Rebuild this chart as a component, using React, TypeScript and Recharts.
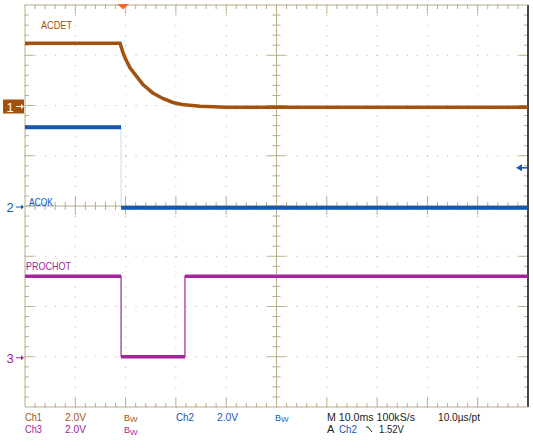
import React from 'react';
import { LineChart, Line, XAxis, YAxis, CartesianGrid, ReferenceLine } from 'recharts';

// scope settings
const VOLTS_PER_DIV = 2;
const CH_OFFSET = { ch1: 6, ch2: 4, ch3: 1 }; // ground marker, in divisions from bottom
const TRIGGER_TIME = 19.5; // ms
const TRIGGER_LEVEL = 1.52; // V on Ch2

// ACDET (Ch1), time in ms, volts
const acdetTime = [0, 18.9, 19.4, 19.9, 20.9, 22.3, 23.5, 25.4, 27.4, 29.4, 31.2, 34.8, 40, 100];
const acdetVolts = [2.48, 2.48, 2.15, 1.89, 1.49, 1.13, 0.82, 0.5, 0.28, 0.12, 0.04, -0.03, -0.07, -0.07];

// ACOK (Ch2)
const acokTime = [0, 19.1, 19.1, 100];
const acokVolts = [3.13, 3.13, -0.07, -0.07];

// PROCHOT (Ch3)
const prochotTime = [0, 19.1, 19.1, 31.8, 31.8, 100];
const prochotVolts = [3.2, 3.2, 0, 0, 3.2, 3.2];

// graticule: 10 x 8 divisions
const majorX = [0, 10, 20, 30, 40, 50, 60, 70, 80, 90, 100];
const majorY = [0, 1, 2, 3, 4, 5, 6, 7, 8];

const GRID = '#b9af8b';
const C1 = '#a3510f';
const C2 = '#1257b8';
const C3 = '#a3259f';
const C2_EDGE = '#c9dcf2';

const toSeries = (t: number[], v: number[], off: number) =>
  t.map((x, i) => ({ t: x, v: off + v[i] / VOLTS_PER_DIV }));

// thick trace, broken at the vertical edges (those are drawn thin)
const thickSeries = (t: number[], v: number[], off: number) => {
  const out: { t: number; v: number | null }[] = [];
  t.forEach((x, i) => {
    if (i > 0 && x === t[i - 1]) out.push({ t: x, v: null });
    out.push({ t: x, v: off + v[i] / VOLTS_PER_DIV });
  });
  return out;
};

const acdetData = toSeries(acdetTime, acdetVolts, CH_OFFSET.ch1);
const acokEdge = toSeries(acokTime, acokVolts, CH_OFFSET.ch2);
const acokThick = thickSeries(acokTime, acokVolts, CH_OFFSET.ch2);
const prochotEdge = toSeries(prochotTime, prochotVolts, CH_OFFSET.ch3);
const prochotThick = thickSeries(prochotTime, prochotVolts, CH_OFFSET.ch3);

// graticule line with 5 minor ticks per division; side: -1/1 one side, 0 both sides
const Graticule = (n: number, side: number, color = GRID) => (p: any) => {
  const { x1, y1, x2, y2 } = p;
  const vertical = Math.abs(x1 - x2) < 0.5;
  const marks = [];
  for (let i = 1; i < n; i++) {
    const x = x1 + ((x2 - x1) * i) / n;
    const y = y1 + ((y2 - y1) * i) / n;
    const len = i % 5 === 0 ? 9 : 4;
    const a = side === 0 ? -len : 0;
    const b = side === 0 ? len : side * len;
    marks.push(
      vertical ? (
        <line key={i} x1={x + a} y1={y} x2={x + b} y2={y} stroke={GRID} />
      ) : (
        <line key={i} x1={x} y1={y + a} x2={x} y2={y + b} stroke={GRID} />
      )
    );
  }
  return (
    <g>
      {marks}
      <line x1={x1} y1={y1} x2={x2} y2={y2} stroke={color} strokeWidth={color === GRID ? 1 : 1.6} />
    </g>
  );
};

const ChannelMarker = (label: string, color: string, boxed: boolean) => (p: any) => {
  const x1 = Math.min(p.x1, p.x2);
  const y1 = p.y1;
  const fg = boxed ? '#fff' : color;
  return (
    <g>
      {boxed && <rect x={x1 - 22} y={y1 - 6} width={21} height={14} fill={color} />}
      <text x={x1 - 15} y={y1 + 6} fontSize={13} fontFamily="Liberation Sans" fill={fg} textAnchor="middle">
        {label}
      </text>
      <line x1={x1 - 9} y1={y1 + 1} x2={x1 - 2} y2={y1 + 1} stroke={fg} />
      <path d={`M${x1 - 1},${y1 + 1} L${x1 - 4},${y1 - 1.5} L${x1 - 4},${y1 + 3.5} Z`} fill={fg} />
    </g>
  );
};

const TriggerPos = (p: any) => {
  const x = p.x1;
  const top = Math.min(p.y1, p.y2);
  return <path d={`M${x - 6},${top - 1} L${x + 6},${top - 1} L${x},${top + 4.5} Z`} fill="#f26d2a" />;
};

const TriggerLevel = (p: any) => {
  const x = Math.max(p.x1, p.x2);
  const y = p.y1;
  return (
    <g>
      <line x1={x - 8} y1={y} x2={x + 1} y2={y} stroke={C2} strokeWidth={1.5} />
      <path d={`M${x - 12},${y} L${x - 6},${y - 3.5} L${x - 6},${y + 3.5} Z`} fill={C2} />
    </g>
  );
};

const F = 'Liberation Sans';

export default function App() {
  return (
    <div style={{ position: 'absolute', left: 0, top: 0, width: 533, height: 448, background: '#fff' }}>
      <LineChart width={533} height={448} margin={{ top: 5, right: 5, bottom: 41, left: 25 }}>
        <XAxis xAxisId="b" type="number" dataKey="t" domain={[0, 100]} ticks={majorX} hide allowDataOverflow />
        <YAxis yAxisId="l" type="number" domain={[0, 8]} ticks={majorY} hide allowDataOverflow />
        <CartesianGrid xAxisId="b" yAxisId="l" stroke={GRID} strokeDasharray="1 9.05" />

        <ReferenceLine xAxisId="b" yAxisId="l" x={50} shape={Graticule(40, 0)} />
        <ReferenceLine xAxisId="b" yAxisId="l" y={4} shape={Graticule(50, 0)} />
        <ReferenceLine xAxisId="b" yAxisId="l" x={0} shape={Graticule(40, 1)} />
        <ReferenceLine xAxisId="b" yAxisId="l" x={100} shape={Graticule(40, -1, '#1a1a1a')} />
        <ReferenceLine xAxisId="b" yAxisId="l" y={8} shape={Graticule(50, 1)} />
        <ReferenceLine xAxisId="b" yAxisId="l" y={0} shape={Graticule(50, -1)} />

        <Line xAxisId="b" yAxisId="l" data={acokEdge} dataKey="v" stroke={C2_EDGE} strokeWidth={1} dot={false} activeDot={false} isAnimationActive={false} />
        <Line xAxisId="b" yAxisId="l" data={acokThick} dataKey="v" stroke={C2} strokeWidth={4} dot={false} activeDot={false} isAnimationActive={false} />
        <Line xAxisId="b" yAxisId="l" data={prochotEdge} dataKey="v" stroke={C3} strokeWidth={1.2} dot={false} activeDot={false} isAnimationActive={false} />
        <Line xAxisId="b" yAxisId="l" data={prochotThick} dataKey="v" stroke={C3} strokeWidth={3.5} dot={false} activeDot={false} isAnimationActive={false} />
        <Line xAxisId="b" yAxisId="l" data={acdetData} dataKey="v" stroke={C1} strokeWidth={3.5} dot={false} activeDot={false} isAnimationActive={false} />

        <ReferenceLine xAxisId="b" yAxisId="l" y={CH_OFFSET.ch1} stroke="none" shape={ChannelMarker('1', C1, true)} />
        <ReferenceLine xAxisId="b" yAxisId="l" y={CH_OFFSET.ch2} stroke="none" shape={ChannelMarker('2', C2, false)} />
        <ReferenceLine xAxisId="b" yAxisId="l" y={CH_OFFSET.ch3} stroke="none" shape={ChannelMarker('3', C3, false)} />
        <ReferenceLine xAxisId="b" yAxisId="l" x={TRIGGER_TIME} stroke="none" shape={TriggerPos} />
        <ReferenceLine xAxisId="b" yAxisId="l" y={CH_OFFSET.ch2 + TRIGGER_LEVEL / VOLTS_PER_DIV} stroke="none" shape={TriggerLevel} />
      </LineChart>

      <svg width={533} height={448} style={{ position: 'absolute', left: 0, top: 0, pointerEvents: 'none' }} fontFamily={F}>
        <text x={41} y={29} fontSize={11} fill={C1} textLength={31} lengthAdjust="spacingAndGlyphs">ACDET</text>
        <text x={29} y={206} fontSize={11} fill={C2} textLength={24} lengthAdjust="spacingAndGlyphs">ACOK</text>
        <text x={26} y={270} fontSize={11} fill={C3} textLength={45} lengthAdjust="spacingAndGlyphs">PROCHOT</text>

        <text x={25} y={420.5} fontSize={11} fill={C1} textLength={17} lengthAdjust="spacingAndGlyphs">Ch1</text>
        <text x={65} y={420.5} fontSize={11} fill={C1} textLength={21} lengthAdjust="spacingAndGlyphs">2.0V</text>
        <text x={124} y={420.5} fill={C1}><tspan fontSize={9}>B</tspan><tspan fontSize={8} dy={1.5}>W</tspan></text>
        <text x={176} y={420.5} fontSize={11} fill={C2} textLength={18} lengthAdjust="spacingAndGlyphs">Ch2</text>
        <text x={217} y={420.5} fontSize={11} fill={C2} textLength={21} lengthAdjust="spacingAndGlyphs">2.0V</text>
        <text x={275} y={420.5} fill={C2}><tspan fontSize={9}>B</tspan><tspan fontSize={8} dy={1.5}>W</tspan></text>
        <text x={327} y={420.5} fontSize={11} fill="#222" textLength={88} lengthAdjust="spacingAndGlyphs">M 10.0ms 100kS/s</text>
        <text x={438} y={420.5} fontSize={11} fill="#222" textLength={42} lengthAdjust="spacingAndGlyphs">10.0µs/pt</text>

        <text x={25} y={433} fontSize={11} fill={C3} textLength={17} lengthAdjust="spacingAndGlyphs">Ch3</text>
        <text x={65} y={433} fontSize={11} fill={C3} textLength={21} lengthAdjust="spacingAndGlyphs">2.0V</text>
        <text x={124} y={433} fill={C3}><tspan fontSize={9}>B</tspan><tspan fontSize={8} dy={1.5}>W</tspan></text>
        <text x={327} y={433} fontSize={11} fill="#222">A</text>
        <text x={339} y={433} fontSize={11} fill={C2} textLength={18} lengthAdjust="spacingAndGlyphs">Ch2</text>
        <path d="M366,427 L368,427 L372,432" stroke="#222" fill="none" strokeWidth={1} />
        <text x={379} y={433} fontSize={11} fill="#222" textLength={25} lengthAdjust="spacingAndGlyphs">1.52V</text>
      </svg>
    </div>
  );
}
